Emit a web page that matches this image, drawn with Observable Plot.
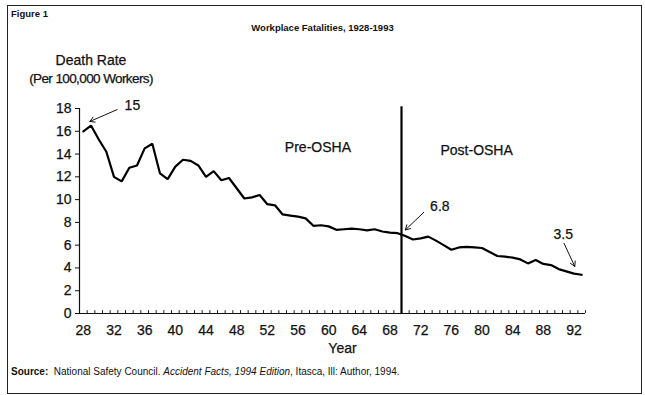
<!DOCTYPE html>
<html><head><meta charset="utf-8">
<script src="https://cdn.jsdelivr.net/npm/d3@7"></script>
<script src="https://cdn.jsdelivr.net/npm/@observablehq/plot@0.6"></script>
<style>
body{margin:0;background:#fff;font-family:"Liberation Sans",Arial,sans-serif;}
#wrap{position:relative;width:645px;height:395px;overflow:hidden;background:#fff;}
#chart{position:absolute;left:0;top:0;}
#frame{position:absolute;left:7px;top:5px;width:635px;height:389px;border:1.5px solid #222;box-sizing:border-box;pointer-events:none;}
.t{position:absolute;white-space:nowrap;color:#111;}
</style></head><body>
<div id="wrap">
<div id="chart"></div>
<div id="frame"></div>
<div class="t" style="left:11px;top:8px;font-size:9.5px;font-weight:bold">Figure 1</div>
<div class="t" style="left:0;width:645px;text-align:center;top:22px;font-size:9.5px;font-weight:bold">Workplace Fatalities, 1928-1993</div>
<div class="t" style="left:91px;transform:translateX(-50%);top:51px;text-align:center;line-height:18px;-webkit-text-stroke:0.25px #111"><span style="font-size:14px">Death Rate</span><br><span style="font-size:13.5px;letter-spacing:-0.6px">(Per 100,000 Workers)</span></div>
<div class="t" style="left:11px;top:366px;font-size:10px"><b>Source:</b>&nbsp; National Safety Council. <i>Accident Facts, 1994 Edition</i>, Itasca, Ill: Author, 1994.</div>
</div>
<script>
const years = [1928,1929,1930,1931,1932,1933,1934,1935,1936,1937,1938,1939,1940,1941,1942,1943,1944,1945,1946,1947,1948,1949,1950,1951,1952,1953,1954,1955,1956,1957,1958,1959,1960,1961,1962,1963,1964,1965,1966,1967,1968,1969,1970,1971,1972,1973,1974,1975,1976,1977,1978,1979,1980,1981,1982,1983,1984,1985,1986,1987,1988,1989,1990,1991,1992,1993];
const deathRate = [16.0,16.5,15.3,14.2,12.0,11.6,12.8,13.0,14.5,14.9,12.3,11.8,12.9,13.5,13.4,13.0,12.0,12.5,11.7,11.9,11.0,10.1,10.2,10.4,9.6,9.5,8.7,8.6,8.5,8.35,7.7,7.75,7.65,7.35,7.4,7.45,7.4,7.3,7.4,7.2,7.1,7.05,6.8,6.5,6.6,6.75,6.4,6.0,5.6,5.8,5.85,5.8,5.75,5.4,5.05,5.0,4.9,4.75,4.4,4.7,4.35,4.25,3.9,3.7,3.5,3.4];
const xTickYears = [1928,1932,1936,1940,1944,1948,1952,1956,1960,1964,1968,1972,1976,1980,1984,1988,1992];
const yTickValues = [0,2,4,6,8,10,12,14,16,18];
const oshaYear = 1970;
const periodLabels = [
  {text: "Pre-OSHA", year: 1958.6, value: 14.55},
  {text: "Post-OSHA", year: 1979.3, value: 14.3}
];
const callouts = [
  {text: "15",  tx: 1934.4, ty: 18.3, x1: 1932.4, y1: 17.9, x2: 1928.85, y2: 16.86},
  {text: "6.8", tx: 1974.5, ty: 9.38, x1: 1972.4, y1: 8.88, x2: 1970.0, y2: 7.34},
  {text: "3.5", tx: 1990.6, ty: 6.93, x1: 1990.7, y1: 6.16, x2: 1992.1, y2: 4.14}
];

const data = years.map((y, i) => ({year: y, rate: deathRate[i]}));
const boundaries = years.map(y => y + 0.5);
const textStroke = {stroke: "#111", strokeWidth: 0.25, fill: "#111"};

const chart = Plot.plot({
  width: 645,
  height: 395,
  marginLeft: 79,
  marginRight: 60,
  marginTop: 108,
  marginBottom: 82,
  style: {fontFamily: "'Liberation Sans', Arial, sans-serif", fontSize: "14px", color: "#111", background: "transparent"},
  x: {domain: [years[0] - 0.5, years[years.length - 1] + 0.5]},
  y: {domain: [0, 18]},
  marks: [
    Plot.axisY({ticks: yTickValues, tickSize: 4, tickPadding: 4, fontSize: 14, label: null, stroke: "#111", textStroke: "#111", textStrokeWidth: 0.25, textStrokeOpacity: 1}),
    Plot.axisX({ticks: xTickYears, tickSize: 0, tickPadding: 12, fontSize: 14, label: null, tickFormat: d => String(d).slice(2), textStroke: "#111", textStrokeWidth: 0.25, textStrokeOpacity: 1}),
    Plot.ruleX(boundaries, {x: d => d, y1: 0, y2: 0.25, stroke: "#222", strokeWidth: 1}),
    Plot.ruleY([0], {stroke: "#111", strokeWidth: 1.2}),
    Plot.ruleX([years[0] - 0.5], {y1: 0, y2: 18, stroke: "#111", strokeWidth: 1.2}),
    Plot.ruleX([oshaYear - 0.5], {y1: 0, y2: 18.15, stroke: "#000", strokeWidth: 2.2}),
    Plot.line(data, {x: "year", y: "rate", stroke: "#000", strokeWidth: 2.2, strokeLinejoin: "miter"}),
    Plot.text(periodLabels, {x: "year", y: "value", text: "text", fontSize: 14, ...textStroke}),
    Plot.text(callouts, {x: "tx", y: "ty", text: "text", fontSize: 14, ...textStroke}),
    Plot.arrow(callouts, {x1: "x1", y1: "y1", x2: "x2", y2: "y2", stroke: "#111", strokeWidth: 1, headLength: 8}),
    Plot.text(["Year"], {frameAnchor: "bottom", dx: 10, dy: 39, fontSize: 14, ...textStroke})
  ]
});
document.getElementById("chart").appendChild(chart);
</script>
</body></html>
